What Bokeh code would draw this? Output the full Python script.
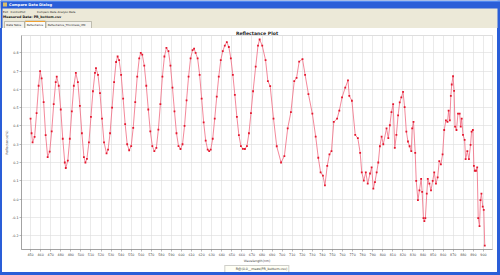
from bokeh.plotting import figure
from bokeh.layouts import column, row
from bokeh.models import (Range1d, FixedTicker, Legend, LegendItem, Spacer,
                          ColumnDataSource, NumeralTickFormatter)
from bokeh.core.properties import value
from bokeh.embed import file_html
from bokeh.resources import INLINE

wavelength = [450, 451, 452, 454, 456, 458, 459.5, 461, 463, 465, 467, 469, 471, 473, 475, 476,
              478, 480, 482, 484, 485, 487, 489, 491, 493, 495, 497, 499, 501, 503, 504.5,
              506, 508, 510, 512, 514, 515, 517, 519, 521, 523, 525.5, 527, 529, 531, 533, 535, 536.5,
              538, 540, 542, 544, 546, 548, 550, 552, 554, 556, 558, 559.5, 561, 563, 565, 567, 569,
              571, 573, 575, 577, 579, 581, 583, 585, 587, 589, 591, 593, 595, 597, 599, 601, 603,
              605, 607, 609, 611, 612.5, 614, 616, 618, 620, 622, 624, 626, 627.5, 629, 631, 633,
              635, 637, 639, 641, 643, 645, 647, 649, 651, 653, 655, 657, 659, 661, 663, 665, 667,
              669, 671.1, 673.7, 676.0, 677.6, 680.2, 683.5, 685.8, 688.1, 691.4, 694.6, 698.9,
              702.2, 705.5, 708.7, 712.0, 714.3, 716.9, 720.2, 722.8, 726.1, 730.0, 733.3, 735.9,
              738.2, 740.5, 742.5, 744.8, 747.0, 749.0, 751.3, 754.6, 756.8, 759.5, 762.7, 765.4,
              766.7, 769.3, 772.6, 775.2, 777.5, 779.1, 781.1, 783.1, 785.0, 787.3, 788.9, 790.6,
              792.2, 793.9, 795.5, 797.1, 798.8, 800.5, 803.7, 805.5, 807.0, 808.6, 810.3, 811.9,
              813.5, 815.2, 816.8, 818.4, 820.1, 821.7, 823.4, 825.0, 826.6, 828.3, 829.2, 830.5,
              832.2, 833.2, 834.9, 836.4, 838.1, 839.1, 840.4, 841.3, 842.3, 843.7, 844.7, 846.3,
              847.9, 849.6, 851.1, 852.8, 854.5, 856.1, 857.7, 859.4, 861.0, 862.7, 864.3, 865.4,
              866.6, 867.6, 868.5, 869.8, 870.8, 871.8, 873.2, 874.7, 876.4, 877.4, 878.4, 879.7,
              881.3, 882.3, 884.0, 885.6, 887.2, 888.2, 889.5, 890.5, 891.4, 892.6, 893.8, 894.8,
              896.1, 897.0, 898.0, 899.3, 900.3, 901.3]

reflectance = [0.44, 0.36, 0.31, 0.34, 0.47, 0.62, 0.70, 0.66, 0.53, 0.35, 0.23, 0.26, 0.37, 0.52, 0.64, 0.67,
               0.62, 0.49, 0.33, 0.20, 0.17, 0.21, 0.33, 0.48, 0.62, 0.69, 0.64, 0.51, 0.36, 0.23, 0.20,
               0.22, 0.31, 0.45, 0.59, 0.69, 0.716, 0.68, 0.58, 0.44, 0.31, 0.25, 0.27, 0.36, 0.50, 0.64, 0.75, 0.78,
               0.76, 0.68, 0.55, 0.41, 0.30, 0.267, 0.29, 0.39, 0.53, 0.67, 0.77, 0.80, 0.79, 0.73, 0.62, 0.49, 0.37,
               0.29, 0.262, 0.28, 0.38, 0.52, 0.67, 0.78, 0.827, 0.81, 0.73, 0.61, 0.48, 0.36, 0.29, 0.274, 0.30, 0.40,
               0.54, 0.67, 0.77, 0.815, 0.823, 0.80, 0.77, 0.68, 0.55, 0.42, 0.32, 0.27, 0.262, 0.27, 0.33, 0.44,
               0.56, 0.67, 0.76, 0.81, 0.84, 0.859, 0.832, 0.77, 0.68, 0.57, 0.45, 0.35, 0.29, 0.275, 0.274, 0.29, 0.36,
               0.47, 0.59, 0.725, 0.84, 0.873, 0.84, 0.76, 0.645, 0.618, 0.44, 0.289, 0.20,
               0.235, 0.387, 0.476, 0.645, 0.663, 0.752, 0.766, 0.68, 0.574, 0.467, 0.342, 0.226,
               0.146, 0.128, 0.075, 0.182, 0.244, 0.262, 0.422, 0.44, 0.484, 0.556, 0.61, 0.649,
               0.565, 0.538, 0.351, 0.333, 0.253, 0.146, 0.101, 0.146, 0.084, 0.14, 0.173, 0.057,
               0.093, 0.146, 0.2, 0.289, 0.342, 0.30, 0.387, 0.333, 0.404, 0.476, 0.52, 0.28,
               0.351, 0.458, 0.529, 0.556, 0.586, 0.503, 0.369, 0.315, 0.289, 0.262, 0.387, 0.422,
               0.253, 0.1, -0.006, 0.048, 0.11, 0.039, -0.104, -0.121, -0.104, 0.03, 0.11, 0.084,
               0.048, 0.1, 0.146, 0.084, 0.119, 0.208, 0.19, 0.244, 0.378, 0.431, 0.422, 0.484,
               0.431, 0.565, 0.627, 0.672, 0.592, 0.396, 0.378, 0.467, 0.467, 0.396, 0.44, 0.351,
               0.324, 0.218, 0.262, 0.218, 0.297, 0.369, 0.378, 0.182, 0.155, 0.155, 0.173, -0.104,
               -0.148, -0.006, 0.03, -0.041, -0.059, -0.255]

x_ticks = list(range(450, 901, 10))
y_ticks = [-0.2, -0.1, 0.0, 0.1, 0.2, 0.3, 0.4, 0.5, 0.6, 0.7, 0.8]
window_title = "Compare Data Dialog"
menu_items = ["Exit", "ControlPlot", "Compare Data", "Analyse Data"]
data_label = "Measured Data: PR_bottom.csv"
tab_names = ["Data Table", "Reflectance", "Reflectance_Thickness_IPD"]
series_name = "R@(0.0__meas(PR_bottom.csv)"

BLUE = "#2a5ed8"
BEIGE = "#ece9d8"
FONT = "DejaVu Sans"
LINE_STYLE = dict(line_color="#f06a80", line_width=0.8)
MARK_STYLE = dict(marker="square", size=1.8, fill_color="#e4182e", line_color=None)

# ---------------- window chrome (top strip) ----------------
top = figure(width=500, height=28, output_backend="svg", toolbar_location=None,
             x_range=Range1d(0, 500), y_range=Range1d(28, 0),
             min_border=0, border_fill_color=BEIGE, background_fill_color=BEIGE,
             outline_line_color=None)
top.axis.visible = False
top.grid.visible = False
top.quad(left=[0, 0, 497], right=[500, 2, 500], top=[0, 0, 0], bottom=[8, 28, 28],
         fill_color=BLUE, line_color=None)
top.quad(left=[0], right=[500], top=[0], bottom=[1.5], fill_color="#4f86f0", line_color=None)
top.quad(left=[2.5], right=[6.5], top=[2], bottom=[6], fill_color="#d8bd6a", line_color=None)
top.text(x=[8.5], y=[4.4], text=[window_title], text_font=value(FONT),
         text_font_size=value("3.6px"), text_font_style="bold", text_color="white",
         text_baseline="middle")
top.text(x=[2.5, 10, 36.5, 57], y=[11.2] * 4, text=menu_items, text_font=value(FONT),
         text_font_size=value("2.7px"), text_color="#222222", text_baseline="middle")
top.text(x=[2.5], y=[16.5], text=[data_label], text_font=value(FONT),
         text_font_size=value("3.3px"), text_font_style="bold", text_color="#111111",
         text_baseline="middle")
tab_l = [4, 24.5, 45.5]
tab_r = [24, 45, 91]
top.quad(left=tab_l, right=tab_r, top=[21, 20.5, 21], bottom=[28, 28, 28],
         fill_color=["#f4f3ee", "#fcfcfa", "#f4f3ee"], line_color="#9c9a8c", line_width=0.6)
top.quad(left=[24.8], right=[44.7], top=[20.5], bottom=[21.6], fill_color="#f0a030",
         line_color=None)
top.text(x=[l + 1.8 for l in tab_l], y=[24.6] * 3, text=tab_names, text_font=value(FONT),
         text_font_size=value("2.8px"), text_color="#222222", text_baseline="middle")

# ---------------- main chart ----------------
src = ColumnDataSource(dict(x=wavelength, y=reflectance))

p = figure(width=495, height=237, output_backend="svg", toolbar_location=None,
           x_range=Range1d(441, 909), y_range=Range1d(-0.276, 0.895),
           min_border_left=13, min_border_right=5, min_border_top=7, min_border_bottom=11,
           background_fill_color="white", border_fill_color="white")
p.title.text = "Reflectance Plot"
p.title.align = "center"
p.title.text_font = FONT
p.title.text_font_size = "4.6px"
p.title.text_font_style = "bold"
p.title.text_color = "#222222"
p.title.offset = 0
p.title.standoff = 0

p.outline_line_color = "#c8c8c8"
p.outline_line_width = 0.6

for ax in (p.xaxis[0], p.yaxis[0]):
    ax.axis_line_color = "#8a8a8a"
    ax.axis_line_width = 0.7
    ax.major_tick_line_color = "#8a8a8a"
    ax.major_tick_line_width = 0.6
    ax.major_tick_in = 0
    ax.major_tick_out = 2
    ax.minor_tick_line_color = None
    ax.major_label_text_font = FONT
    ax.major_label_text_font_size = "3.3px"
    ax.major_label_text_color = "#444444"
    ax.major_label_standoff = 1
    ax.axis_label_text_font = FONT
    ax.axis_label_text_font_size = "3.2px"
    ax.axis_label_text_font_style = "normal"
    ax.axis_label_text_color = "#444444"
    ax.axis_label_standoff = 0

p.xaxis.ticker = FixedTicker(ticks=x_ticks)
p.yaxis.ticker = FixedTicker(ticks=y_ticks)
p.yaxis.formatter = NumeralTickFormatter(format="0.0")
p.xaxis.axis_label = "Wavelength(nm)"
p.yaxis.axis_label = "Reflectance(%)"

p.xgrid.ticker = FixedTicker(ticks=x_ticks)
p.ygrid.ticker = FixedTicker(ticks=y_ticks)
for g in (p.xgrid[0], p.ygrid[0]):
    g.grid_line_color = "#dcdcdc"
    g.grid_line_width = 0.6

p.line("x", "y", source=src, **LINE_STYLE)
p.scatter("x", "y", source=src, **MARK_STYLE)

# ---------------- legend strip (same series styling) ----------------
lg = figure(width=495, height=7, output_backend="svg", toolbar_location=None,
            x_range=Range1d(0, 1), y_range=Range1d(0, 1), min_border=0,
            border_fill_color="white", background_fill_color="white",
            outline_line_color=None)
lg.axis.visible = False
lg.grid.visible = False
empty = ColumnDataSource(dict(x=[], y=[]))
lg_ln = lg.line("x", "y", source=empty, **LINE_STYLE)
lg_sc = lg.scatter("x", "y", source=empty, **MARK_STYLE)
legend = Legend(items=[LegendItem(label=series_name, renderers=[lg_ln, lg_sc])],
                orientation="horizontal", location="center",
                label_text_font=FONT, label_text_font_size="3.3px",
                label_text_color="#333333",
                glyph_height=4, glyph_width=8, label_height=4, label_standoff=2,
                padding=1, margin=0, spacing=0,
                border_line_color="#a0a0a0", border_line_width=0.6,
                background_fill_color="#fffff4")
lg.add_layout(legend)

left_edge = Spacer(width=2, height=244, styles={"background-color": BLUE})
right_edge = Spacer(width=3, height=244, styles={"background-color": BLUE})
bottom_edge = Spacer(width=500, height=3, styles={"background-color": BLUE})

layout = column(top,
                row(left_edge, column(p, lg, spacing=0), right_edge, spacing=0),
                bottom_edge, spacing=0)

open("out.html", "w").write(file_html(layout, INLINE))
